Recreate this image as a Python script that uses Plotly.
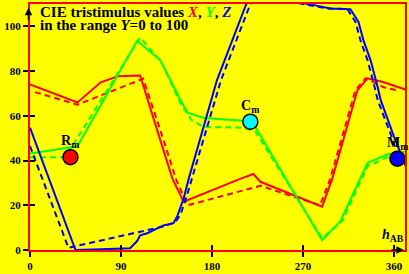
import plotly.graph_objects as go

# ---- data ----
h_X = [0, 47, 70, 87, 109, 119, 129, 141, 152, 208, 221, 228, 289, 299, 324, 334, 350, 373]
X = [74, 66, 75, 77.7, 78, 63, 49, 31.8, 21.6, 31.8, 34, 30.5, 19.4, 31.8, 71.5, 76.8, 75, 71.5]

h_Xd = [5, 47, 112, 123, 133, 145, 156, 228, 287, 297, 322, 332, 350, 362]
Xd = [70.6, 65, 76.6, 62, 48, 31, 20, 28.7, 20, 31.8, 71.5, 76.8, 72.8, 71.5]

h_Y = [0, 47, 106, 129, 149, 156, 172, 211, 223, 253, 289, 307, 327, 334, 354, 373]
Y = [43.2, 46.4, 93.6, 84.8, 67, 61.4, 59, 57.8, 55, 31.8, 4.4, 12.8, 31.8, 39, 42.8, 44]

h_Yd = [0, 35, 109, 130, 149, 160, 172, 211, 223, 289, 309, 327, 334, 354, 362]
Yd = [41.5, 41.5, 95, 84, 65.5, 58, 55, 54.7, 53, 5.3, 13, 31, 37.5, 41.5, 42]

h_Z = [0, 45, 70, 99, 106, 109, 116, 132, 142, 146, 152, 157, 185, 214, 238,
       261, 281, 297, 317, 325, 330, 337, 344, 347, 360, 373]
Z = [54.7, 0, 0.3, 0.8, 4, 6.6, 7.5, 11, 12, 15.5, 23, 31.8, 76, 110, 118,
     111, 109.5, 108, 107.7, 102, 93.6, 84.8, 72.8, 67, 50.8, 36]

h_Zd = [0, 38, 50, 109, 116, 132, 144, 149, 155, 189, 218, 240,
        258, 278, 294, 314, 322, 327, 334, 341, 344, 357, 362]
Zd = [46.5, 1, 2.2, 8.4, 9, 10.5, 12.5, 16, 24, 76, 110, 118,
      111, 109.5, 108, 107.7, 102, 93.6, 84.8, 72.8, 67, 51.6, 45]

mark_h = [40, 218, 363.5]
mark_v = [41.5, 57.4, 40.8]
mark_colors = ["#ff0000", "#00ffff", "#0000ff"]
mark_labels = ["R<sub>m</sub>", "C<sub>m</sub>", "M<sub>m</sub>"]

x_ticks = [0, 90, 180, 270, 360]
y_ticks = [0, 20, 40, 60, 80, 100]

RED, GREEN, BLUE = "#ff0000", "#00ff00", "#0000ff"
SERIF = "Liberation Serif"

fig = go.Figure()

def line(xs, ys, color, dash=None):
    fig.add_trace(go.Scatter(x=xs, y=ys, mode="lines",
                             line=dict(color=color, width=2, dash=dash),
                             showlegend=False, hoverinfo="skip"))

line(h_Xd, Xd, RED, "6px,4px")
line(h_X, X, RED)
line(h_Yd, Yd, GREEN, "6px,4px")
line(h_Y, Y, GREEN)
line(h_Zd, Zd, BLUE, "6px,4px")
line(h_Z, Z, BLUE)

fig.add_trace(go.Scatter(x=mark_h, y=mark_v, mode="markers",
                         marker=dict(size=15, color=mark_colors,
                                     line=dict(color="black", width=1.5)),
                         showlegend=False, hoverinfo="skip"))

# invisible trace to carry the inner-tick axes
fig.add_trace(go.Scatter(x=[None], y=[None], xaxis="x2", yaxis="y2",
                         showlegend=False, hoverinfo="skip"))

tickfont = dict(family=SERIF, size=11, color="black", weight="bold")
XR = [0, 371]
YR = [0, 110]

fig.update_layout(
    width=409, height=274,
    margin=dict(l=30, r=4, t=2, b=22),
    paper_bgcolor="#ffff00", plot_bgcolor="#ffff00",
    xaxis=dict(range=XR, tickvals=x_ticks, ticks="outside", ticklen=5,
               tickcolor="black", tickwidth=2, showgrid=False, zeroline=False,
               showline=True, linecolor=RED, linewidth=2, mirror=True,
               tickfont=tickfont),
    yaxis=dict(range=YR, tickvals=y_ticks, ticks="outside", ticklen=5,
               tickcolor="black", tickwidth=2, showgrid=False, zeroline=False,
               showline=True, linecolor=RED, linewidth=2, mirror=True,
               tickfont=tickfont),
    xaxis2=dict(range=XR, tickvals=x_ticks, ticks="inside", ticklen=5,
                tickcolor="black", tickwidth=2, showgrid=False, zeroline=False,
                showline=False, showticklabels=False, overlaying="x",
                anchor="y2", side="bottom"),
    yaxis2=dict(range=YR, tickvals=y_ticks, ticks="inside", ticklen=5,
                tickcolor="black", tickwidth=2, showgrid=False, zeroline=False,
                showline=False, showticklabels=False, overlaying="y",
                anchor="x2", side="left"),
)

ann_font = dict(family=SERIF, size=15, color="black")
for hx, vy, lab in zip(mark_h, mark_v, mark_labels):
    fig.add_annotation(x=hx, y=vy, text="<b>" + lab + "</b>", showarrow=False,
                       xanchor="center", yanchor="bottom", yshift=6,
                       font=dict(family=SERIF, size=14, color="black"),
                       borderpad=0)

fig.add_annotation(
    xref="paper", yref="paper", x=0.025, y=0.968, xanchor="left", yanchor="middle",
    text=("<b>CIE tristimulus values "
          "<i><span style='color:#ff0000'>X</span></i>, "
          "<i><span style='color:#00ff00'>Y</span></i>, "
          "<i><span style='color:#0000ff'>Z</span></i></b>"),
    showarrow=False, font=ann_font, borderpad=0)
fig.add_annotation(
    xref="paper", yref="paper", x=0.025, y=0.914, xanchor="left", yanchor="middle",
    text="<b>in the range <i>Y</i>=0 to 100</b>",
    showarrow=False, font=ann_font, borderpad=0)
fig.add_annotation(
    xref="paper", yref="paper", x=1.0, y=0.02, xanchor="right", yanchor="bottom",
    text="<b><i>h</i><sub>AB</sub></b>",
    showarrow=False, font=dict(family=SERIF, size=14, color="black"), borderpad=0)

# axis arrowheads
fig.add_annotation(xref="paper", yref="paper", x=-0.004, y=0.985, ax=0, ay=14,
                   showarrow=True, arrowhead=2, arrowsize=1, arrowwidth=1.5,
                   arrowcolor="black", text="")
fig.add_annotation(xref="paper", yref="paper", x=0.997, y=0.0, ax=-14, ay=0,
                   showarrow=True, arrowhead=2, arrowsize=1, arrowwidth=1.5,
                   arrowcolor="black", text="")

fig.write_html("out.html", config={"displayModeBar": False},
               post_script="document.body.style.margin='0';document.body.style.padding='0';")
